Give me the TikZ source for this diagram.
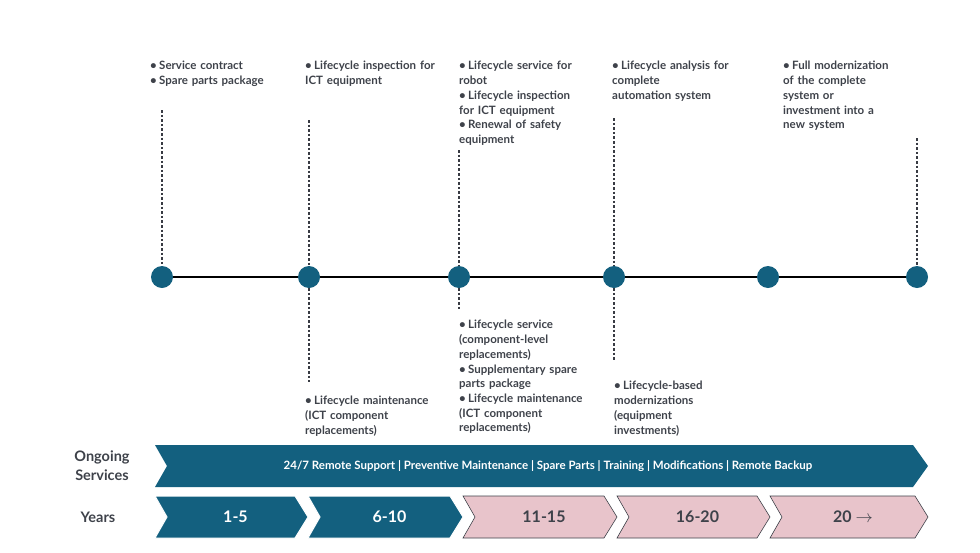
\documentclass[tikz,border=0pt]{standalone}
\usepackage{fontspec}
\setmainfont{Lato}
\usetikzlibrary{positioning}
\definecolor{myteal}{RGB}{19,96,127}
\definecolor{mypink}{RGB}{232,196,203}
\definecolor{mytext}{RGB}{62,66,74}
\newcommand\bitem[1]{\par\hangindent=9pt\hangafter=1\noindent\makebox[9pt][l]{\textbullet}#1}
\begin{document}
\begin{tikzpicture}[x=1pt,y=-1pt,
  dot/.style={circle,fill=myteal,minimum size=22pt,inner sep=0pt},
  guide/.style={line width=2.6pt,dotted,mytext!90!black},
  note/.style={anchor=north west,inner sep=0pt,text width=160pt,align=left,
    font=\bfseries\fontsize{11.5}{14.7}\selectfont,text=mytext},
  head/.style={font=\bfseries\fontsize{14.5}{19}\selectfont,text=mytext,align=center},
  blueseg/.style={fill=myteal,draw=white,line width=1pt},
  pinkseg/.style={fill=mypink,draw=mytext,line width=0.6pt},
  yr/.style={font=\bfseries\fontsize{16}{18}\selectfont}]
  \useasboundingbox (0,0) rectangle (980,552);

  % timeline
  \foreach \i/\x in {1/162,2/309,3/459,4/614,5/768,6/917}
    \coordinate (t\i) at (\x,277);
  \draw[line width=1.5pt] (t1) -- (t6);
  \foreach \i in {1,...,6}
    \node[dot] (d\i) at (t\i) {};

  % guides above
  \draw[guide] (162,110) -- (d1.north);
  \draw[guide] (309,120) -- (d2.north);
  \draw[guide] (459,150) -- (d3.north);
  \draw[guide] (614,118) -- (d4.north);
  \draw[guide] (917,138) -- (d6.north);
  % guides below
  \draw[guide] (d2.south) -- (309,382);
  \draw[guide] (d3.south) -- (459,310);
  \draw[guide] (d4.south) -- (614,360);

  % notes above
  \node[note] (n1) at (150,55) {\bitem{Service contract}\bitem{Spare parts package}};
  \node[note] (n2) at (305,55) {\bitem{Lifecycle inspection for\\ICT equipment}};
  \node[note] (n3) at (459,55) {\bitem{Lifecycle service for\\robot}\bitem{Lifecycle inspection\\for ICT equipment}\bitem{Renewal of safety\\equipment}};
  \node[note] (n4) at (612,55) {\bitem{Lifecycle analysis for\\complete\\automation system}};
  \node[note] (n5) at (783,55) {\bitem{Full modernization\\of the complete\\system or\\investment into a\\new system}};
  % notes below
  \node[note] (n6) at (305,390) {\bitem{Lifecycle maintenance\\(ICT component\\replacements)}};
  \node[note] (n7) at (459,314) {\bitem{Lifecycle service\\(component-level\\replacements)}\bitem{Supplementary spare\\parts package}\bitem{Lifecycle maintenance\\(ICT component\\replacements)}};
  \node[note] (n8) at (614,375) {\bitem{Lifecycle-based\\modernizations\\(equipment\\investments)}};

  % ongoing band
  \fill[myteal] (155,445) -- (913,445) -- (928,466) -- (913,487) -- (155,487) -- (167,466) -- cycle;
  \node[font=\bfseries\fontsize{11.5}{14}\selectfont,text=white] (ong) at (548,466)
    {24/7 Remote Support | Preventive Maintenance | Spare Parts | Training | Modifications | Remote Backup};
  \node[head] (lo) at (102,466) {Ongoing\\Services};
  \node[head] (ly) at (98,517) {Years};

  % years chevrons
  \foreach \a/\b/\s/\c/\t [count=\k] in {155/308/blueseg/white/1-5,308/463/blueseg/white/6-10,463/617/pinkseg/mytext/11-15,617/770/pinkseg/mytext/16-20,770/928/pinkseg/mytext/{20 $\rightarrow$}}{
    \pgfmathsetmacro\e{\b-13}
    \draw[\s] (\a,496) -- (\e,496) -- (\b,517) -- (\e,538) -- (\a,538) -- ({\a+12},517) -- cycle;
    \node[yr,text=\c] (y\k) at ({(\a+\b)/2+4},517) {\t};
  }
\end{tikzpicture}
\end{document}
